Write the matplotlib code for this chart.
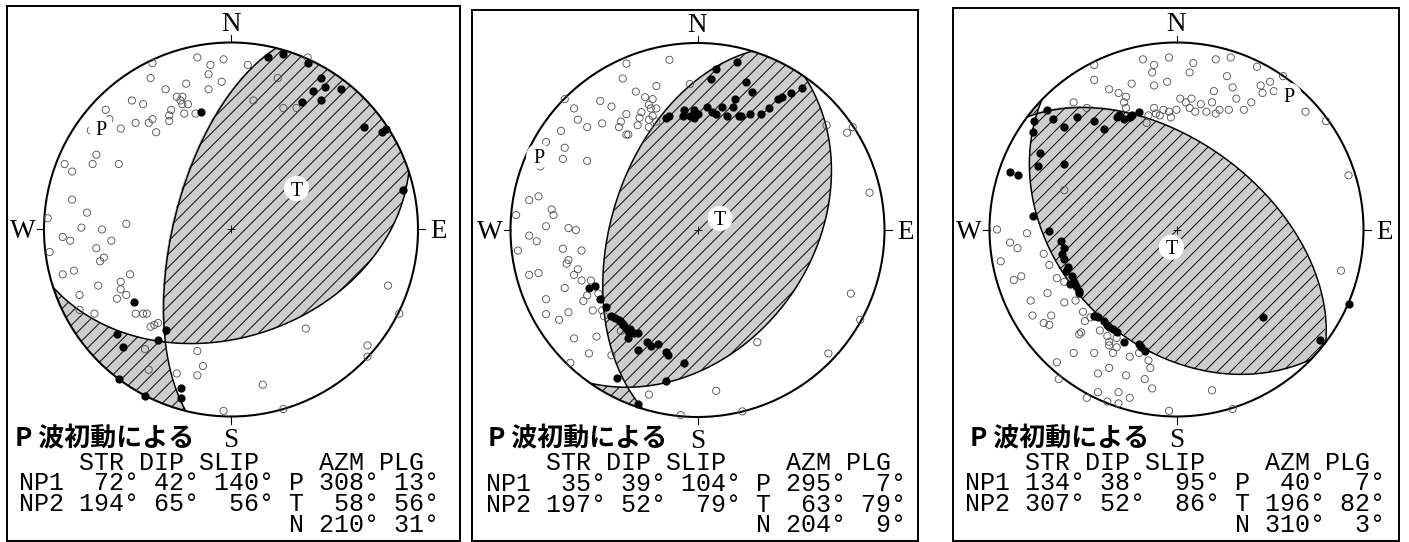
import numpy as np
import matplotlib
matplotlib.use('Agg')
import matplotlib.pyplot as plt
from matplotlib.patches import Circle, PathPatch
from matplotlib.collections import LineCollection
from matplotlib.font_manager import FontProperties

# 画像サイズとステレオネット半径 (px)
DPI = 78
W, H = 1409, 542
R = 187

# 発震機構解 (表の値)
np1 = [(72, 42, 140), (35, 39, 104), (134, 38, 95)]
np2 = [(194, 65, 56), (197, 52, 79), (307, 52, 86)]
p_axis = [(308, 13), (295, 7), (40, 7)]
t_axis = [(58, 56), (63, 79), (196, 82)]
n_axis = [(210, 31), (204, 9), (310, 3)]

# 初動極性 (東, 北) ネット半径に対する % 、下半球等積投影
p1_up = [(20, 92), (28, 94), (41, 89), (48, 81), (50, 76), (44, 74), (59, 75), (38, 68),
         (48, 69), (-16, 63), (71, 55), (83, 54), (81, 52), (92, 21), (-52, -39), (-35, -54),
         (-39, -59), (-61, -56), (-58, -63), (-60, -80), (-46, -89), (-27, -85), (-27, -90)]
p1_dn = [(-18, 92), (-11, 88), (-4, 91), (9, 88), (-42, 89), (-12, 83), (-43, 81), (-24, 78),
         (-5, 79), (-12, 75), (-35, 75), (-29, 71), (-26, 71), (-27, 69), (-26, 67), (-23, 67),
         (-53, 69), (-47, 67), (-32, 64), (-25, 62), (-19, 62), (-33, 61), (-67, 64), (-65, 59),
         (-42, 59), (-44, 57), (-51, 57), (-59, 54), (-40, 52), (-33, 58), (-75, 53), (-72, 40),
         (-74, 35), (-60, 35), (-89, 35), (-85, 31), (-85, 16), (-77, 9), (-98, 6), (-56, 3),
         (-80, 1), (-69, 0), (-90, -4), (-86, -6), (-64, -6), (-97, -12), (-72, -10), (-68, -15),
         (-70, -17), (-90, -24), (-84, -22), (-54, -24), (-59, -28), (-71, -30), (-59, -32),
         (-81, -35), (-56, -35), (-61, -37), (-73, -45), (-81, -43), (-51, -45), (-47, -45),
         (-45, -45), (-39, -50), (-41, -51), (-43, -52), (-46, -64), (-18, -65), (-15, -73),
         (-44, -75), (-29, -77), (-18, -78), (17, -83), (-4, -97), (28, -96), (73, -62), (73, -68),
         (40, -53), (90, -45), (84, -30), (25, 81), (12, 69), (28, 65), (35, 65), (41, 92)]

p2_up = [(21, 90), (10, 86), (7, 81), (26, 79), (29, 74), (20, 70), (19, 66), (13, 66), (5, 66),
         (-7, 64), (-2, 64), (0, 62), (-4, 61), (-2, 60), (-8, 61), (-17, 60), (-15, 61), (8, 63),
         (10, 62), (16, 61), (22, 61), (23, 61), (28, 62), (34, 62), (38, 65), (43, 70), (45, 71),
         (50, 73), (56, 76), (-58, -31), (-55, -30), (-52, -37), (-49, -41), (-46, -46), (-44, -47),
         (-42, -48), (-41, -49), (-40, -50), (-40, -51), (-39, -52), (-37, -54), (-36, -53),
         (-34, -55), (-32, -55), (-37, -58), (-27, -60), (-25, -62), (-21, -61), (-17, -65),
         (-16, -67), (-32, -64), (-7, -71), (-43, -79), (-17, -81), (-32, -93)]
p2_dn = [(-38, 89), (-15, 91), (-40, 81), (-22, 77), (-33, 74), (-28, 71), (-24, 70), (-26, 67),
         (-22, 65), (-25, 65), (-46, 66), (-52, 69), (-66, 65), (-71, 70), (-38, 62), (-30, 63),
         (-31, 60), (-26, 59), (-24, 61), (-41, 58), (-42, 55), (-51, 57), (-64, 59), (-59, 55),
         (-32, 56), (-26, 55), (-22, 58), (-38, 51), (-37, 51), (-4, 78), (-73, 53),
         (69, 56), (80, 52), (83, 55), (92, 20), (82, -34), (87, -48), (70, -66), (32, -60),
         (10, -86), (24, -97), (-9, -99), (-26, -88),
         (-81, 47), (-71, 44), (-72, 38), (-59, 37), (-84, 34), (-90, 16), (-85, 18), (-78, 11),
         (-77, 8), (-97, 8), (-81, 2), (-69, 1), (-65, 0), (-90, -3), (-86, -6), (-96, -11),
         (-72, -10), (-62, -11), (-69, -16), (-70, -18), (-64, -21), (-66, -24), (-90, -24),
         (-85, -23), (-62, -27), (-57, -27), (-59, -35), (-71, -31), (-81, -37), (-61, -38),
         (-53, -34), (-81, -45), (-74, -48), (-69, -44), (-56, -43), (-51, -43), (-50, -46),
         (-66, -58), (-54, -57), (-58, -66), (-68, -71), (-46, -67), (-41, -54)]

p3_up = [(-69, 64), (-76, 58), (-77, 52), (-66, 59), (-60, 55), (-53, 60), (-44, 58), (-39, 54),
         (-32, 60), (-31, 61), (-28, 59), (-25, 60), (-24, 61), (-20, 63), (-73, 41), (-74, 34),
         (-60, 35), (-89, 31), (-85, 29), (-77, 7), (-68, -1), (-62, -6), (-60, -10), (-61, -13),
         (-60, -16), (-59, -22), (-58, -20), (-56, -25), (-55, -28), (-57, -29), (-54, -30),
         (-52, -33), (-52, -34), (-44, -46), (-42, -47), (-39, -49), (-37, -51), (-36, -52),
         (-34, -53), (-32, -55), (-28, -60), (-20, -61), (-19, -63), (-17, -65), (46, -47),
         (77, -59), (92, -40)]
p3_dn = [(-44, 88), (-44, 80), (-36, 75), (-31, 73), (-27, 71), (-28, 68), (-27, 65), (-55, 68),
         (-48, 65), (-18, 91), (-4, 92), (-12, 88), (-13, 84), (-24, 78), (-12, 77), (-5, 79),
         (9, 89), (7, 84), (21, 91), (29, 92), (27, 82), (20, 74), (30, 76), (32, 70), (40, 68),
         (43, 87), (45, 77), (50, 79), (52, 74), (46, 73), (57, 82), (69, 63), (80, 58), (2, 70),
         (5, 68), (8, 70), (13, 67), (19, 68), (16, 63), (23, 64), (28, 64), (36, 64), (7, 65),
         (0, 64), (-3, 60), (-7, 64), (-11, 62), (-12, 65), (-9, 61), (-4, 63), (10, 63), (21, 62),
         (-15, 61), (-16, 57), (92, 29), (88, -22), (30, -96), (-4, -97), (19, -86),
         (-96, 0), (-80, -2), (-89, -7), (-85, -10), (-94, -17), (-83, -25), (-87, -27), (-78, -38),
         (-77, -46), (-60, 21), (-71, -13), (-68, -19), (-69, -34), (-64, -26), (-60, -28),
         (-60, -39), (-54, -38), (-67, -46), (-71, -50), (-68, -51), (-50, -44), (-49, -49),
         (-46, -47), (-43, -46), (-41, -54), (-52, -56), (-51, -55), (-37, -57), (-36, -60),
         (-32, -58), (-36, -62), (-32, -63), (-55, -66), (-44, -66), (-34, -66), (-25, -68),
         (-20, -66), (-15, -70), (-14, -74), (-64, -71), (-63, -80), (-42, -77), (-36, -74),
         (-27, -78), (-17, -80), (-13, -85), (-42, -87), (-31, -87), (-25, -90), (-37, -92),
         (-31, -93), (-48, -90)]

ups = [p1_up, p2_up, p3_up]
downs = [p1_dn, p2_dn, p3_dn]

# パネル枠 (左, 右, 上, 下) とネット中心 (px)
frames = [(7, 460, 6, 541), (472, 918, 10, 541), (953, 1399, 8, 541)]
centres = [(231, 229.5), (697.5, 230), (1176.5, 229.5)]
title_dx = [-216, -209, -207]

serif = 'Liberation Serif'
mono = 'Liberation Mono'
MONO_PT = 23.08
ROW_PX = 20.5
HATCH_PX = 13


def project(az, inc):
    # 下半球シュミット (等積) 投影
    rho = np.sqrt(2) * np.sin(np.radians(inc) / 2)
    return rho * np.sin(np.radians(az)), rho * np.cos(np.radians(az))


def plane_curve(strike, dip):
    s, d = np.radians(strike), np.radians(dip)
    t = np.linspace(0, np.pi, 721)
    vn = np.cos(t) * np.cos(s) + np.sin(t) * np.cos(d) * np.cos(s + np.pi / 2)
    ve = np.cos(t) * np.sin(s) + np.sin(t) * np.cos(d) * np.sin(s + np.pi / 2)
    vz = np.sin(t) * np.sin(d)
    inc = np.degrees(np.arccos(np.clip(vz, -1, 1)))
    az = np.degrees(np.arctan2(ve, vn))
    return project(az, inc)


def polarity_grid(strike, dip, rake, xs):
    X, Y = np.meshgrid(xs, xs)
    rho = np.minimum(np.hypot(X, Y), 1.0)
    inc = 2 * np.arcsin(rho / np.sqrt(2))
    az = np.arctan2(X, Y)
    r = np.stack([np.sin(inc) * np.cos(az), np.sin(inc) * np.sin(az), np.cos(inc)])
    f, d, lam = np.radians([strike, dip, rake])
    n = np.array([-np.sin(d) * np.sin(f), np.sin(d) * np.cos(f), -np.cos(d)])
    u = np.array([np.cos(lam) * np.cos(f) + np.sin(lam) * np.cos(d) * np.sin(f),
                  np.cos(lam) * np.sin(f) - np.sin(lam) * np.cos(d) * np.cos(f),
                  -np.sin(lam) * np.sin(d)])
    amp = np.tensordot(n, r, 1) * np.tensordot(u, r, 1)
    amp[np.hypot(X, Y) > 1] = -1
    return X, Y, amp


fig = plt.figure(figsize=(W / DPI, H / DPI), dpi=DPI)
renderer = fig.canvas.get_renderer()
_, lp_h, lp_d = renderer.get_text_width_height_descent(
    'lp', FontProperties(family=mono, size=MONO_PT), ismath=False)
row_ls = (ROW_PX - lp_d) / (lp_h - lp_d)

xs = np.linspace(-1.02, 1.02, 801)
offs = np.arange(-2.3, 2.3, HATCH_PX / R)
hatch_segs = [[(-1.2, -1.2 + c), (1.2, 1.2 + c)] for c in offs]

for k in range(3):
    x0, x1, y0, y1 = frames[k]
    cx, cy = centres[k]
    ax = fig.add_axes([x0 / W, 1 - y1 / H, (x1 - x0) / W, (y1 - y0) / H])
    ax.set_xlim((x0 - cx) / R, (x1 - cx) / R)
    ax.set_ylim((cy - y1) / R, (cy - y0) / R)
    ax.set_xticks([])
    ax.set_yticks([])
    for sp in ax.spines.values():
        sp.set_linewidth(1.8)

    # 押し領域 (灰色 + 斜線)
    X, Y, amp = polarity_grid(*np1[k], xs)
    cs = ax.contourf(X, Y, amp, levels=[0, 1], colors=['#cdcdcd'], zorder=1)
    region = PathPatch(cs.get_paths()[0], transform=ax.transData)
    hatch = LineCollection(hatch_segs, colors='black', linewidths=0.85, zorder=1.5)
    ax.add_collection(hatch)
    hatch.set_clip_path(region)

    # 節面
    for strike, dip, _ in (np1[k], np2[k]):
        ex, ny = plane_curve(strike, dip)
        ax.plot(ex, ny, color='black', lw=1.4, zorder=2)
    ax.add_patch(Circle((0, 0), 1, fill=False, lw=1.9, ec='black', zorder=2))

    # 方位の目盛り
    for ang in (0, 90, 180, 270):
        a = np.radians(ang)
        ax.plot([np.sin(a), (1 + 7 / R) * np.sin(a)], [np.cos(a), (1 + 7 / R) * np.cos(a)],
                color='black', lw=1.0)
    ax.text(0, 198.5 / R, 'N', ha='center', va='baseline', fontsize=25, family=serif)
    ax.text(-208 / R, -9 / R, 'W', ha='center', va='baseline', fontsize=25, family=serif)
    ax.text(208 / R, -9 / R, 'E', ha='center', va='baseline', fontsize=25, family=serif)
    ax.text(0, -217.5 / R, 'S', ha='center', va='baseline', fontsize=25, family=serif)

    # 観測点
    dn = np.array(downs[k]) / 100
    ax.scatter(dn[:, 0], dn[:, 1], s=44, facecolors='none', edgecolors='#505050',
               linewidths=0.8, zorder=3)
    up = np.array(ups[k]) / 100
    ax.scatter(up[:, 0], up[:, 1], s=58, c='black', linewidths=0, zorder=4)

    ax.plot(0, 0, marker='+', ms=7, mew=0.8, color='black', zorder=4)

    # P軸・T軸
    for (az, pl), lab in ((p_axis[k], 'P'), (t_axis[k], 'T')):
        px, py = project(az, 90 - pl)
        ax.add_patch(Circle((px, py), 12 / R, color='white', zorder=5))
        ax.text(px, py, lab, ha='center', va='center_baseline', fontsize=18.5,
                family=serif, zorder=6)

    # 表 (最終行のベースラインで位置合わせ)
    ax.text(title_dx[k] / R, -216.5 / R, 'P 波初動による', ha='left', va='baseline',
            fontsize=24, family=['Noto Sans CJK JP'], fontweight='bold')
    s1, d1, r1 = np1[k]
    s2, d2, r2 = np2[k]
    rows = ['    STR DIP SLIP    AZM PLG',
            f'NP1 {s1:3d}°{d1:3d}°{r1:4d}° P {p_axis[k][0]:3d}°{p_axis[k][1]:3d}°',
            f'NP2 {s2:3d}°{d2:3d}°{r2:4d}° T {t_axis[k][0]:3d}°{t_axis[k][1]:3d}°',
            ' ' * 18 + f'N {n_axis[k][0]:3d}°{n_axis[k][1]:3d}°']
    ax.text(-212 / R, -(240.5 + 3 * ROW_PX) / R, '\n'.join(rows), ha='left', va='baseline',
            multialignment='left', linespacing=row_ls, fontsize=MONO_PT, family=mono)

fig.savefig('out.png', dpi=DPI)
